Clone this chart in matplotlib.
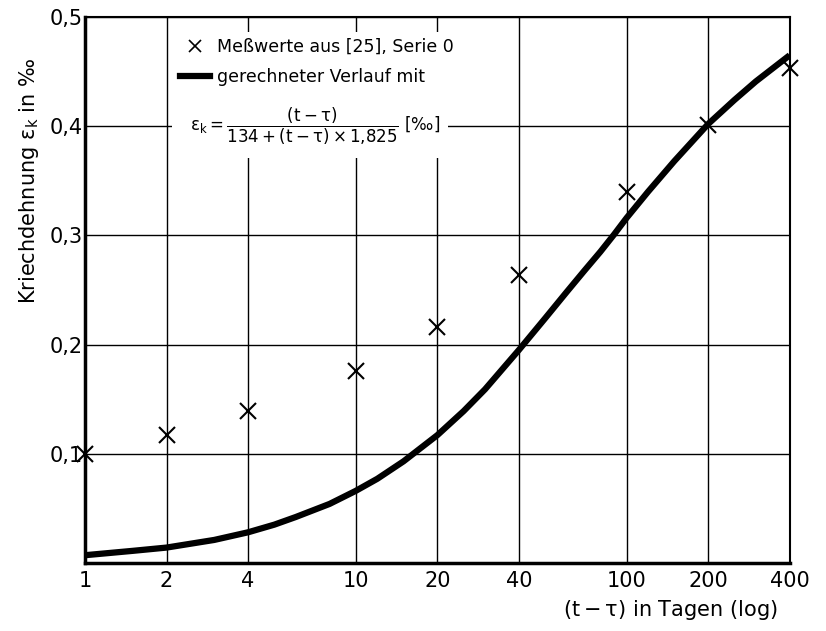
import matplotlib
matplotlib.use("Agg")
import matplotlib.pyplot as plt
from matplotlib.lines import Line2D
from matplotlib.patches import Rectangle

plt.rcParams['font.family'] = ['DejaVu Sans']
plt.rcParams['mathtext.fontset'] = 'dejavusans'
plt.rcParams['mathtext.default'] = 'regular'

# Messwerte (aus [25], Serie 0)
mess_t = [1, 2, 4, 10, 20, 40, 100, 200, 400]
mess_eps = [0.100, 0.117, 0.139, 0.176, 0.216, 0.264, 0.340, 0.401, 0.453]

# gerechneter Verlauf
kurve_t = [1, 1.5, 2, 3, 4, 5, 6, 8, 10, 12, 15, 20, 25, 30, 40, 50, 60, 70, 80,
           90, 100, 120, 150, 200, 250, 300, 400]
kurve_eps = [0.007, 0.011, 0.014, 0.021, 0.028, 0.035, 0.042, 0.054, 0.066, 0.077,
             0.093, 0.117, 0.139, 0.159, 0.195, 0.224, 0.248, 0.268, 0.285,
             0.301, 0.316, 0.340, 0.368, 0.402, 0.424, 0.441, 0.465]

x_ticks = [1, 2, 4, 10, 20, 40, 100, 200, 400]
x_labels = ['1', '2', '4', '10', '20', '40', '100', '200', '400']
y_ticks = [0.1, 0.2, 0.3, 0.4, 0.5]
y_labels = ['0,1', '0,2', '0,3', '0,4', '0,5']

fig = plt.figure(figsize=(8.26, 6.31), dpi=100)
ax = fig.add_axes([0.103, 0.108, 0.853, 0.865])

ax.set_xscale('log')
ax.set_xlim(1, 400)
ax.set_ylim(0, 0.5)
ax.set_xticks(x_ticks)
ax.set_xticklabels(x_labels, fontsize=15)
ax.minorticks_off()
ax.set_yticks(y_ticks)
ax.set_yticklabels(y_labels, fontsize=15)
ax.tick_params(length=0, pad=6)
ax.tick_params(axis='y', pad=2)
ax.grid(True, color='black', lw=1.0)

for s in ['left', 'bottom']:
    ax.spines[s].set_linewidth(2.5)
for s in ['top', 'right']:
    ax.spines[s].set_linewidth(1.5)

ax.plot(kurve_t, kurve_eps, color='black', lw=4.5, solid_capstyle='butt',
        solid_joinstyle='round', zorder=3)
ax.plot(mess_t, mess_eps, ls='none', marker='x', color='black', ms=11, mew=1.5,
        zorder=4, clip_on=False)

# weisser Hintergrund fuer Legende und Formel
ax.add_patch(Rectangle((0.123, 0.742), 0.392, 0.231, transform=ax.transAxes,
                       facecolor='white', edgecolor='none', zorder=2))

handles = [Line2D([], [], ls='none', marker='x', color='black', ms=8, mew=1.2),
           Line2D([], [], color='black', lw=4.5)]
ax.legend(handles, ['Meßwerte aus [25], Serie 0', 'gerechneter Verlauf mit'],
          loc='upper left', bbox_to_anchor=(0.113, 0.99), frameon=False,
          fontsize=12.5, handlelength=1.7, handletextpad=0.4, labelspacing=0.7)

ax.text(0.326, 0.80,
        r'$\varepsilon_k = \dfrac{(t-\tau)}{134+(t-\tau)\times 1{,}825}$ [‰]',
        transform=ax.transAxes, ha='center', va='center', fontsize=12, zorder=5)

ax.set_ylabel(r'Kriechdehnung $\varepsilon_k$ in ‰', fontsize=15)
ax.yaxis.set_label_coords(-0.062, 0.70)
fig.text(0.942, 0.033, r'$(t-\tau)$ in Tagen (log)', ha='right', va='center', fontsize=15)

fig.savefig('out.png', dpi=100)
